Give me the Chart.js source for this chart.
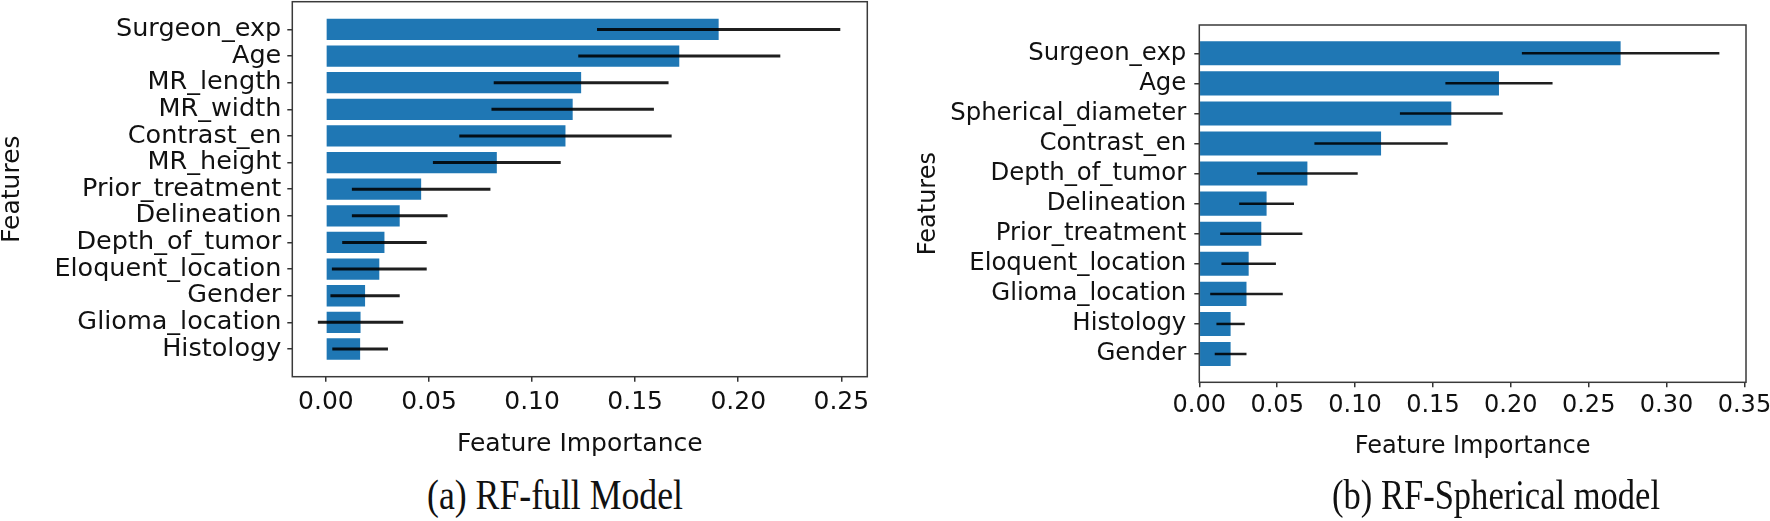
<!DOCTYPE html>
<html><head><meta charset="utf-8">
<script src="https://cdn.jsdelivr.net/npm/chart.js@4.4.1/dist/chart.umd.min.js"></script>
<style>
html,body{margin:0;padding:0;background:#fff;width:1770px;height:521px;overflow:hidden;}
.box{position:absolute;}
.cap{position:absolute;font-family:'Liberation Serif',serif;font-size:42px;line-height:1;white-space:nowrap;color:#111;transform-origin:0 0;}
</style></head><body>
<div class="box" style="left:0;top:0;width:880px;height:470px"><canvas id="c1"></canvas></div>
<div class="box" style="left:885px;top:0;width:885px;height:480px"><canvas id="c2"></canvas></div>
<div class="cap" data-w="256" style="left:426.7px;top:474px">(a) RF-full Model</div>
<div class="cap" data-w="328" style="left:1331.7px;top:473.5px">(b) RF-Spherical model</div>
<script>
// (a) RF-full model, listed top to bottom
const fullFeatures = ['Surgeon_exp','Age','MR_length','MR_width','Contrast_en','MR_height','Prior_treatment','Delineation','Depth_of_tumor','Eloquent_location','Gender','Glioma_location','Histology'];
const fullImportance = [0.1905,0.1714,0.1238,0.1197,0.1162,0.0829,0.0462,0.0358,0.0284,0.0259,0.0190,0.0168,0.0166];
const fullStd = [0.0590,0.0490,0.0424,0.0394,0.0515,0.0310,0.0336,0.0232,0.0205,0.0230,0.0168,0.0207,0.0135];
const fullTicks = [0,0.05,0.10,0.15,0.20,0.25];

// (b) RF-Spherical model, listed top to bottom
const sphFeatures = ['Surgeon_exp','Age','Spherical_diameter','Contrast_en','Depth_of_tumor','Delineation','Prior_treatment','Eloquent_location','Glioma_location','Histology','Gender'];
const sphImportance = [0.2705,0.1924,0.1618,0.1167,0.0694,0.0432,0.0398,0.0317,0.0303,0.0201,0.0201];
const sphStd = [0.0634,0.0344,0.0330,0.0428,0.0323,0.0176,0.0264,0.0175,0.0233,0.0091,0.0102];
const sphTicks = [0,0.05,0.10,0.15,0.20,0.25,0.30,0.35];

const errorBarPlugin = {
  id: 'errorBars',
  afterDatasetsDraw(chart, args, opts) {
    const {ctx, scales: {x, y}} = chart;
    const ds = chart.data.datasets[0];
    ctx.save();
    ctx.strokeStyle = opts.color; ctx.lineWidth = opts.width; ctx.lineCap = 'butt';
    ds.data.forEach((d, i) => {
      const e = opts.errors[i];
      const py = y.getPixelForValue(d.y);
      ctx.beginPath();
      ctx.moveTo(x.getPixelForValue(d.x - e), py);
      ctx.lineTo(x.getPixelForValue(d.x + e), py);
      ctx.stroke();
    });
    ctx.restore();
  }
};
const framePlugin = {
  id: 'frame',
  afterDraw(chart, args, opts) {
    const {ctx, chartArea: a} = chart;
    ctx.save();
    ctx.strokeStyle = opts.color; ctx.lineWidth = opts.width;
    ctx.strokeRect(a.left, a.top, a.right - a.left, a.bottom - a.top);
    ctx.restore();
  }
};

function makeChart(id, features, values, errs, ticks, g) {
  const n = features.length;
  const marg = 0.05 * (n - 1 + 0.8);
  const fam = 'DejaVu Sans';
  return new Chart(document.getElementById(id), {
    type: 'bar',
    data: {
      datasets: [{
        data: values.map((v, i) => ({x: v, y: i})),
        backgroundColor: '#1f77b4',
        borderWidth: 0,
        barPercentage: 0.8,
        categoryPercentage: 1.0
      }]
    },
    plugins: [errorBarPlugin, framePlugin],
    options: {
      indexAxis: 'y',
      responsive: true,
      maintainAspectRatio: false,
      animation: false,
      layout: {padding: {left: 0, top: g.padTop, right: g.padRight, bottom: 0}},
      plugins: {
        legend: {display: false},
        tooltip: {enabled: false},
        errorBars: {errors: errs, color: 'rgba(0,0,0,0.88)', width: g.errW},
        frame: {color: '#3a3a3a', width: 1.5}
      },
      scales: {
        x: {
          type: 'linear', min: g.xmin, max: g.xmax, offset: false,
          afterBuildTicks: s => { s.ticks = ticks.map(v => ({value: v})); },
          ticks: {callback: v => Number(v).toFixed(2), font: {family: fam, size: g.tickFont, lineHeight: 1}, color: '#111', padding: g.xTickPad, autoSkip: false, maxRotation: 0},
          grid: {offset: false, drawOnChartArea: false, drawTicks: true, tickLength: 5, color: '#333', lineWidth: 1.5},
          border: {display: false},
          title: {display: true, text: 'Feature Importance', color: '#111', font: {family: fam, size: g.titleFont, lineHeight: 1}, padding: {top: 0, bottom: g.xTitlePad}},
          afterFit: s => { s.height = g.xAxisH; s.paddingLeft = 0; s.paddingRight = 0; }
        },
        y: {
          type: 'linear', reverse: true, offset: false, min: -0.4 - marg, max: n - 1 + 0.4 + marg,
          afterBuildTicks: s => { s.ticks = features.map((_, i) => ({value: i})); },
          ticks: {callback: v => features[v], font: {family: fam, size: g.labelFont}, color: '#111', padding: g.yTickPad, autoSkip: false},
          grid: {offset: false, drawOnChartArea: false, drawTicks: true, tickLength: 5, color: '#333', lineWidth: 1.5},
          border: {display: false},
          title: {display: true, text: 'Features', color: '#111', font: {family: fam, size: g.titleFont, lineHeight: 1}, padding: {top: g.yTitlePad, bottom: 0}},
          afterFit: s => { s.width = g.yAxisW; s.paddingTop = 0; s.paddingBottom = 0; }
        }
      }
    }
  });
}

makeChart('c1', fullFeatures, fullImportance, fullStd, fullTicks, {
  xmin: -0.0163, xmax: 0.2626, padTop: 1.7, padRight: 12.7, yAxisW: 292.3, xAxisH: 93.3,
  tickFont: 25, labelFont: 25.5, titleFont: 25, xTickPad: 8, yTickPad: 6, xTitlePad: 13, yTitlePad: 0, errW: 3
});
makeChart('c2', sphFeatures, sphImportance, sphStd, sphTicks, {
  xmin: 0, xmax: 0.351, padTop: 25, padRight: 24, yAxisW: 314.3, xAxisH: 97.7,
  tickFont: 24, labelFont: 24.4, titleFont: 24, xTickPad: 6.6, yTickPad: 8, xTitlePad: 21.4, yTitlePad: 32, errW: 2.5
});

document.querySelectorAll('.cap').forEach(el => {
  const w = el.getBoundingClientRect().width;
  el.style.transform = 'scaleX(' + (parseFloat(el.dataset.w) / w) + ')';
});
</script>
</body></html>
